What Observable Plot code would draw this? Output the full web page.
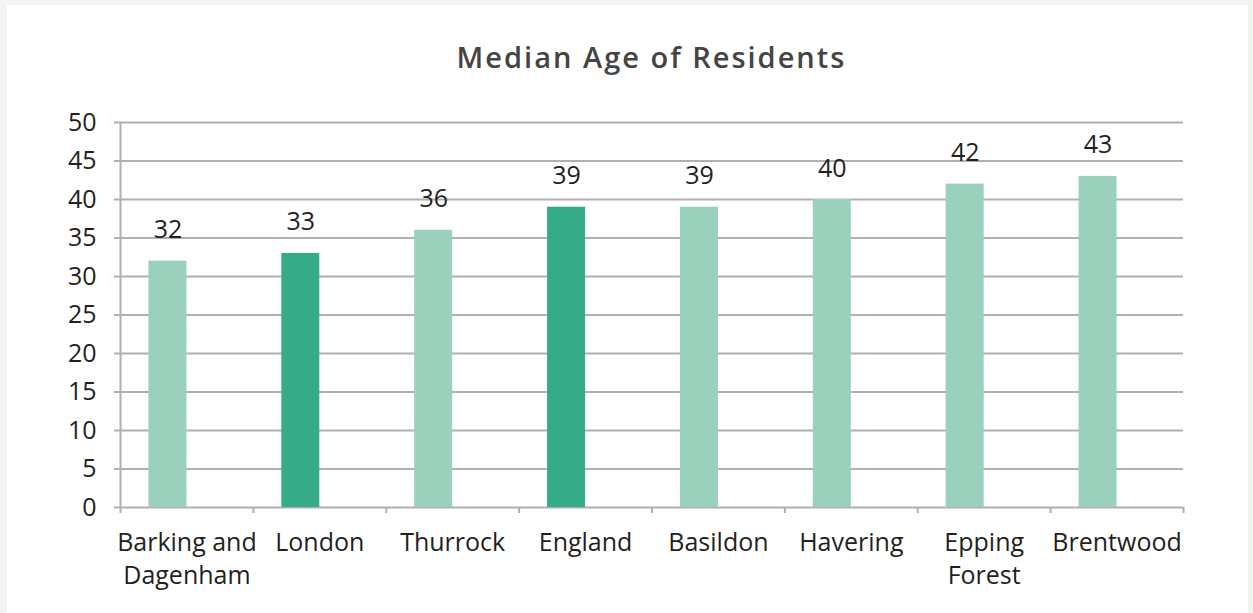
<!DOCTYPE html>
<html>
<head>
<meta charset="utf-8">
<script src="https://cdn.jsdelivr.net/npm/d3@7"></script>
<script src="https://cdn.jsdelivr.net/npm/@observablehq/plot@0.6"></script>
<style>
  html, body { margin: 0; padding: 0; background: #f2f4f2; width: 1253px; height: 613px; overflow: hidden; }
  #panel { position: absolute; left: 7px; top: 5px; width: 1241px; height: 620px; background: #ffffff; }
  #title {
    position: absolute; left: 113px; width: 1063px; top: 36px;
    text-align: center; font-family: "Open Sans", sans-serif; font-weight: 600;
    font-size: 29px; letter-spacing: 2px; line-height: 32px; color: #444444;
  }
  #chart { position: absolute; left: 0; top: 95px; }
</style>
</head>
<body>
<div id="panel">
  <div id="title">Median Age of Residents</div>
  <div id="chart"></div>
</div>
<script>
// Median age by area
const categories = ["Barking and\nDagenham", "London", "Thurrock", "England", "Basildon", "Havering", "Epping\nForest", "Brentwood"];
const medianAge = [32, 33, 36, 39, 39, 40, 42, 43];
const areaType = ["Borough", "Region", "Borough", "Region", "Borough", "Borough", "Borough", "Borough"];
const yTicks = [0, 5, 10, 15, 20, 25, 30, 35, 40, 45, 50];

const rows = categories.map((name, i) => ({ name, i, age: medianAge[i], type: areaType[i] }));
const slotEdges = d3.range(categories.length + 1);

const gridColor = "#b1afaf";
const font = "'Open Sans', sans-serif";

const chart = Plot.plot({
  width: 1241,
  height: 518,
  marginLeft: 113,
  marginRight: 65,
  marginTop: 22,
  marginBottom: 111,
  style: { fontFamily: font, fontSize: "25px", color: "#231f20", background: "transparent" },
  x: { type: "linear", domain: [0, categories.length], axis: null },
  y: { domain: [0, 50], axis: null },
  color: { domain: ["Borough", "Region"], range: ["#99d1bc", "#36ab88"] },
  marks: [
    // horizontal gridlines
    Plot.ruleY(yTicks, { stroke: gridColor, strokeWidth: 2 }),
    // left axis line
    Plot.ruleX([0], { stroke: gridColor, strokeWidth: 2 }),
    // bars occupy the left half of each category's cluster
    Plot.rectY(rows, { x1: d => d.i + 0.214, x2: d => d.i + 0.5, y: "age", fill: "type" }),
    // value labels above the bars
    Plot.text(rows, { x: d => d.i + 0.357, y: "age", text: d => String(d.age), dy: -31, fontSize: 25, fill: "#231f20" }),
    // y axis ticks and labels
    Plot.axisY({ ticks: yTicks, tickSize: 6, tickPadding: 18, stroke: gridColor, strokeWidth: 2, fontSize: 25, label: null }),
    // category boundary ticks
    Plot.axisX({ ticks: slotEdges, tickSize: 6, tickFormat: () => "", stroke: gridColor, strokeWidth: 2, label: null }),
    // category names
    Plot.text(rows, { x: d => d.i + 0.5, y: 0, text: "name", lineAnchor: "top", dy: 20, lineHeight: 1.32, fontSize: 25, fill: "#231f20" })
  ]
});
document.getElementById("chart").appendChild(chart);
</script>
</body>
</html>
